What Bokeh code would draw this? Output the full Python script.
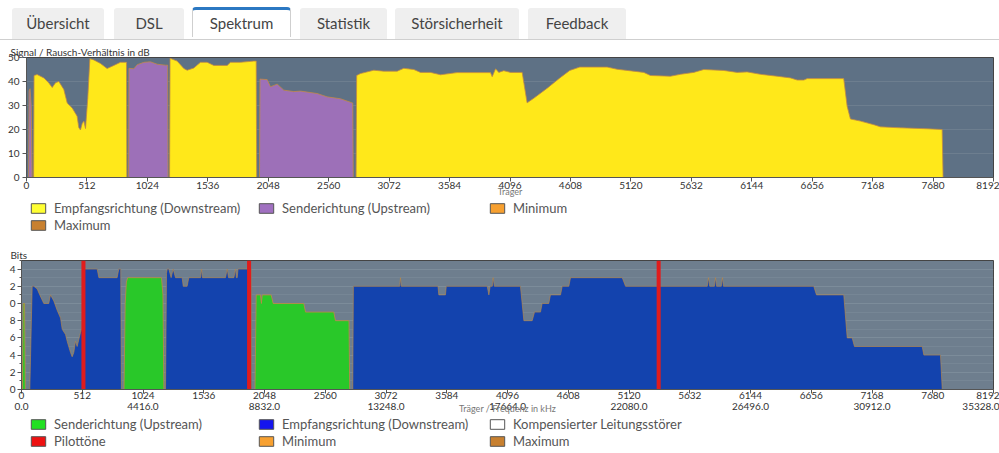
import math
from bokeh.plotting import figure
from bokeh.models import (Div, Legend, LegendItem, FixedTicker, LinearAxis, Range1d)
from bokeh.layouts import column
from bokeh.embed import file_html
from bokeh.resources import INLINE

# ---------------- data ----------------
TABS = ["Übersicht", "DSL", "Spektrum", "Statistik", "Störsicherheit", "Feedback"]
ACTIVE_TAB = "Spektrum"

CARRIER_TICKS = list(range(0, 8193, 512))
FREQ_TICKS = list(range(0, 8193, 1024))
FREQ_LABELS = ["0.0", "4416.0", "8832.0", "13248.0", "17664.0",
               "22080.0", "26496.0", "30912.0", "35328.0"]
SNR_MAX = 50
BITS_MAX = 15

# Signal / noise ratio, downstream (yellow)
SNR_DS_CARRIER = [60, 64, 90, 147, 189, 218, 246, 274, 316, 345, 387, 429, 443, 457, 472, 486, 500,
                  519, 537, 570, 627, 683, 740, 796, 839, 847, 850,
                  1212, 1216, 1276, 1333, 1361, 1417, 1474, 1530, 1587, 1643, 1700, 1728, 1813, 1925,
                  1946, 1950,
                  2792, 2797, 2829, 2942, 3027, 3140, 3196, 3281, 3338, 3422, 3507, 3648, 3931, 3945,
                  3974, 4001, 4043, 4100, 4199, 4241, 4297, 4411, 4516, 4602, 4687, 4919, 5004, 5229,
                  5286, 5455, 5540, 5653, 5738, 5907, 6020, 6105, 6218, 6359, 6472, 6529, 6585, 6614,
                  6923, 6952, 6980, 7065, 7178, 7234, 7404, 7630, 7757, 7765]
SNR_DS_DB = [0, 42.5, 42.9, 41.5, 39.4, 37.5, 39.5, 40, 36.7, 31, 29, 25.5, 20.8, 19.8, 22.5, 23.5, 20.4,
             33, 49.5, 49, 47.5, 45.4, 46.7, 48, 48, 48, 0,
             0, 49.7, 48.5, 45.4, 44.7, 45.6, 48, 48, 46.7, 46.7, 46.7, 48, 48, 48.5,
             48.5, 0,
             0, 42.5, 43.3, 44.7, 44.3, 44.3, 45.5, 45, 43.8, 43.8, 42.8, 43.7, 43.7, 42,
             45.3, 43.8, 44.5, 43.8, 43.8, 31.1, 33, 37.2, 41.4, 44.6, 46, 46, 45.1, 43.8,
             42.5, 42.2, 43, 43.8, 45, 44.6, 43.8, 44, 43, 42.2, 41.5, 40.6, 40.6, 41.2,
             41.2, 29.7, 24.4, 23.5, 22, 21.1, 20.7, 20.3, 20, 0]

# Signal / noise ratio, upstream (purple)
SNR_US_CARRIER = [18, 22, 30, 40, 48,
                  865, 868, 909, 938, 994, 1050, 1107, 1177, 1196, 1199,
                  1974, 1978, 2039, 2067, 2124, 2180, 2264, 2321, 2462, 2547, 2660, 2764, 2768]
SNR_US_DB = [0, 36, 37, 30, 0,
             0, 45.5, 45.3, 47, 48, 48.2, 47.2, 46.8, 46.8, 0,
             0, 41, 40.8, 37.8, 38.9, 36.4, 35.8, 36, 35, 33.6, 32.8, 31, 0]

# Bit loading, downstream (blue)
BITS_DS_CARRIER = [70, 90, 104, 132, 154, 188, 230, 244, 272, 301, 329, 343, 371, 385, 413, 427,
                   441, 455, 469, 497, 512, 530, 638, 652, 806, 820, 836, 842,
                   1214, 1222, 1228, 1242, 1261, 1278, 1298, 1354, 1363, 1396, 1410, 1509, 1517,
                   1525, 1719, 1734, 1745, 1790, 1804, 1811, 1818, 1825, 1936, 1940,
                   2792, 2797, 3188, 3194, 3200, 3510, 3517, 3573, 3580, 3925, 3939, 3950, 3968,
                   3975, 3985, 4205, 4234, 4304, 4324, 4374, 4388, 4444, 4458, 4543, 4557, 4613,
                   4627, 5063, 5091, 5780, 5790, 5800, 5840, 5849, 5858, 5898, 5907, 5916, 6677,
                   6700, 6930, 6959, 7001, 7020, 7591, 7605, 7745, 7760]
BITS_DS = [0, 12, 12, 11.7, 11, 10, 10, 11, 10.3, 9.2, 8.3, 7, 6.4, 5.6, 4.3, 3.8,
           4.3, 5.6, 5, 6.6, 7.2, 14, 14, 13, 13, 14, 14, 0,
           0, 13.5, 14, 14, 13, 14, 13, 13, 12, 12, 13, 13, 14,
           13, 13, 14, 13, 13, 14, 13, 13, 14, 14, 0,
           0, 12, 12, 13, 12, 12, 11, 11, 12, 12, 11, 12, 12,
           13, 12, 12, 8, 8, 9, 9, 10, 10, 11, 11, 12, 12,
           13, 13, 12, 12, 13, 12, 12, 13, 12, 12, 13, 12, 12,
           11, 11, 6, 6, 5, 5, 4, 4, 0]

# Bit loading, upstream (green)
BITS_US_CARRIER = [8, 14, 26, 32,
                   864, 874, 884, 895, 1180, 1192, 1200,
                   1968, 1978, 2014, 2022, 2029, 2104, 2121, 2379, 2394, 2632, 2646, 2760, 2766]
BITS_US = [0, 10, 10, 0,
           0, 10, 12.5, 13, 13, 11, 0,
           0, 11, 11, 10, 11, 11, 10, 10, 9, 9, 8, 8, 0]

PILOT_CARRIERS = [522, 1918, 5370]

# ---------------- style ----------------
FONT = "Lato"
TICK_FONT = "Lato"
SNR_BG = "#5e7185"
BITS_BG = "#6e7e8e"
YELLOW = "#ffe81a"
PURPLE = "#9d70b8"
BLUE = "#1343ae"
GREEN = "#29c829"
RED = "#e01c1c"
EDGE = "#c08a45"
NAN = float("nan")


def style_axes(p):
    for ax in p.xaxis + p.yaxis:
        ax.axis_line_color = "#555555"
        ax.major_tick_line_color = "#555555"
        ax.minor_tick_line_color = None
        ax.major_tick_out = 4
        ax.major_tick_in = 0
        ax.major_label_text_font = TICK_FONT
        ax.major_label_text_font_size = "10px"
        ax.major_label_text_color = "#333333"
        ax.axis_label_text_font = FONT
        ax.axis_label_text_font_style = "normal"
        ax.axis_label_text_color = "#777777"
        ax.axis_label_text_font_size = "9px"
    p.xgrid.visible = False
    p.ygrid.grid_line_color = "#8a97a4"
    p.ygrid.grid_line_alpha = 0.35
    p.outline_line_color = "#444444"
    p.border_fill_color = "white"


def legend_figure(height, left, columns, col_x, col_y):
    lf = figure(width=999, height=height, output_backend="svg", toolbar_location=None,
                x_range=Range1d(0, 1), y_range=Range1d(0, 1),
                x_axis_location=None, y_axis_location=None,
                min_border_left=left, min_border_right=6, min_border_top=0, min_border_bottom=0,
                outline_line_color=None, background_fill_color="white")
    lf.grid.visible = False
    for x, y, items in zip(col_x, col_y, columns):
        rends = []
        for label, fill in items:
            # placeholder glyph (NaN -> nothing drawn) that only provides the legend swatch
            r = lf.quad(left=[NAN], right=[NAN], top=[NAN], bottom=[NAN],
                        fill_color=fill, line_color="#555555")
            rends.append(LegendItem(label=label, renderers=[r]))
        lg = Legend(items=rends, location=(x - left, y), orientation="vertical",
                    padding=0, margin=0, spacing=1,
                    glyph_width=18, glyph_height=12, label_height=16, label_standoff=7,
                    label_text_font=FONT, label_text_font_size="13px",
                    label_text_color="#555555", border_line_color=None,
                    background_fill_alpha=0)
        lf.add_layout(lg, "center")
    return lf


# ---------------- tabs ----------------
tab_lefts = [12, 114, 193, 300, 395, 528]
tab_widths = [92, 70, 99, 87, 124, 98]
parts = ['<div style="position:relative;width:999px;height:40px;font-family:Lato;'
         'font-size:15px;color:#444;">',
         '<div style="position:absolute;left:0;top:39px;width:999px;height:1px;background:#cfcfcf;"></div>']
for name, l, w in zip(TABS, tab_lefts, tab_widths):
    if name == ACTIVE_TAB:
        st = ("position:absolute;left:%dpx;top:7px;width:%dpx;height:30px;background:#fff;"
              "border-top:3px solid #2b78c2;border-left:1px solid #cfcfcf;border-right:1px solid #cfcfcf;"
              "border-radius:4px 4px 0 0;display:flex;align-items:center;justify-content:center;" % (l - 1, w))
    else:
        st = ("position:absolute;left:%dpx;top:8px;width:%dpx;height:31px;background:#efefef;"
              "border-radius:3px 3px 0 0;display:flex;align-items:center;justify-content:center;" % (l, w))
    parts.append('<div style="%s">%s</div>' % (st, name))
parts.append('</div>')
tabs = Div(text="".join(parts), width=999, height=40, margin=0)

# ---------------- SNR chart ----------------
p1 = figure(width=999, height=159, output_backend="svg", toolbar_location=None,
            x_range=Range1d(0, 8192), y_range=Range1d(0, SNR_MAX),
            min_border_left=26, min_border_right=6, min_border_top=17, min_border_bottom=21,
            background_fill_color=SNR_BG, title="Signal / Rausch-Verhältnis in dB")
p1.title.text_font = FONT
p1.title.text_font_size = "10px"
p1.title.text_font_style = "normal"
p1.title.text_color = "#333333"
p1.title.offset = -16
p1.title.standoff = 0
p1.xaxis.ticker = FixedTicker(ticks=CARRIER_TICKS)
p1.yaxis.ticker = FixedTicker(ticks=list(range(0, SNR_MAX + 1, 10)))
p1.xaxis.axis_label = "Träger"
p1.xaxis.axis_label_standoff = -6
style_axes(p1)
p1.xaxis.major_label_standoff = 0
p1.yaxis.major_label_standoff = 3
p1.yaxis.axis_label_standoff = 0

p1.varea(x=SNR_DS_CARRIER, y1=0, y2=SNR_DS_DB, fill_color=YELLOW)
p1.line(x=SNR_DS_CARRIER, y=SNR_DS_DB, line_color=EDGE, line_width=1, line_alpha=0.8)
p1.varea(x=SNR_US_CARRIER, y1=0, y2=SNR_US_DB, fill_color=PURPLE)
p1.line(x=SNR_US_CARRIER, y=SNR_US_DB, line_color=EDGE, line_width=1, line_alpha=0.8)

leg1 = legend_figure(36, 26,
                     [[("Empfangsrichtung (Downstream)", "#ffff33"), ("Maximum", "#c8802f")],
                      [("Senderichtung (Upstream)", "#a070c0")],
                      [("Minimum", "#f7a030")]],
                     [29, 257, 488], [2, 19, 19])

# ---------------- Bits chart ----------------
p2 = figure(width=999, height=181, output_backend="svg", toolbar_location=None,
            x_range=Range1d(0, 8192), y_range=Range1d(0, BITS_MAX),
            min_border_left=21, min_border_right=6, min_border_top=25, min_border_bottom=27,
            background_fill_color=BITS_BG, title="Bits")
p2.title.text_font = FONT
p2.title.text_font_size = "10px"
p2.title.text_font_style = "normal"
p2.title.text_color = "#333333"
p2.title.offset = -11
p2.title.standoff = 0
p2.xaxis.ticker = FixedTicker(ticks=CARRIER_TICKS)
bits_ticks = list(range(0, BITS_MAX, 2))
p2.yaxis.ticker = FixedTicker(ticks=bits_ticks, minor_ticks=list(range(0, BITS_MAX + 1)))
p2.yaxis.major_label_overrides = {t: str(t)[-1] for t in bits_ticks}
style_axes(p2)
p2.xaxis.major_label_standoff = -2
p2.yaxis.major_label_standoff = 2
p2.yaxis.axis_label_standoff = 0
p2.yaxis.minor_tick_line_color = "#555555"
p2.yaxis.minor_tick_out = 2
p2.ygrid.minor_grid_line_color = "#8a97a4"
p2.ygrid.minor_grid_line_alpha = 0.3

freq_axis = LinearAxis(ticker=FixedTicker(ticks=FREQ_TICKS),
                       major_label_overrides={t: s for t, s in zip(FREQ_TICKS, FREQ_LABELS)},
                       axis_line_color=None, major_tick_line_color=None, minor_tick_line_color=None,
                       major_label_standoff=-5, major_label_text_font=TICK_FONT,
                       major_label_text_font_size="10px", major_label_text_color="#333333",
                       axis_label="Träger / Frequenz in kHz", axis_label_standoff=-10,
                       axis_label_text_font=FONT, axis_label_text_font_style="normal",
                       axis_label_text_color="#777777", axis_label_text_font_size="9px")
p2.add_layout(freq_axis, "below")

p2.varea(x=BITS_US_CARRIER, y1=0, y2=BITS_US, fill_color=GREEN)
p2.line(x=BITS_US_CARRIER, y=BITS_US, line_color=EDGE, line_width=1, line_alpha=0.8)
p2.varea(x=BITS_DS_CARRIER, y1=0, y2=BITS_DS, fill_color=BLUE)
p2.line(x=BITS_DS_CARRIER, y=BITS_DS, line_color=EDGE, line_width=1, line_alpha=0.6)
p2.vbar(x=PILOT_CARRIERS, bottom=0, top=BITS_MAX, width=34, fill_color=RED, line_color=None)

leg2 = legend_figure(37, 21,
                     [[("Senderichtung (Upstream)", "#22e022"), ("Pilottöne", "#ee1111")],
                      [("Empfangsrichtung (Downstream)", "#1515ee"), ("Minimum", "#f7a030")],
                      [("Kompensierter Leitungsstörer", "white"), ("Maximum", "#c8802f")]],
                     [29, 257, 488], [4, 4, 4])

layout = column(tabs, column(p1, leg1, spacing=0), column(p2, leg2, spacing=0), spacing=0)
open("out.html", "w").write(file_html(layout, INLINE))
